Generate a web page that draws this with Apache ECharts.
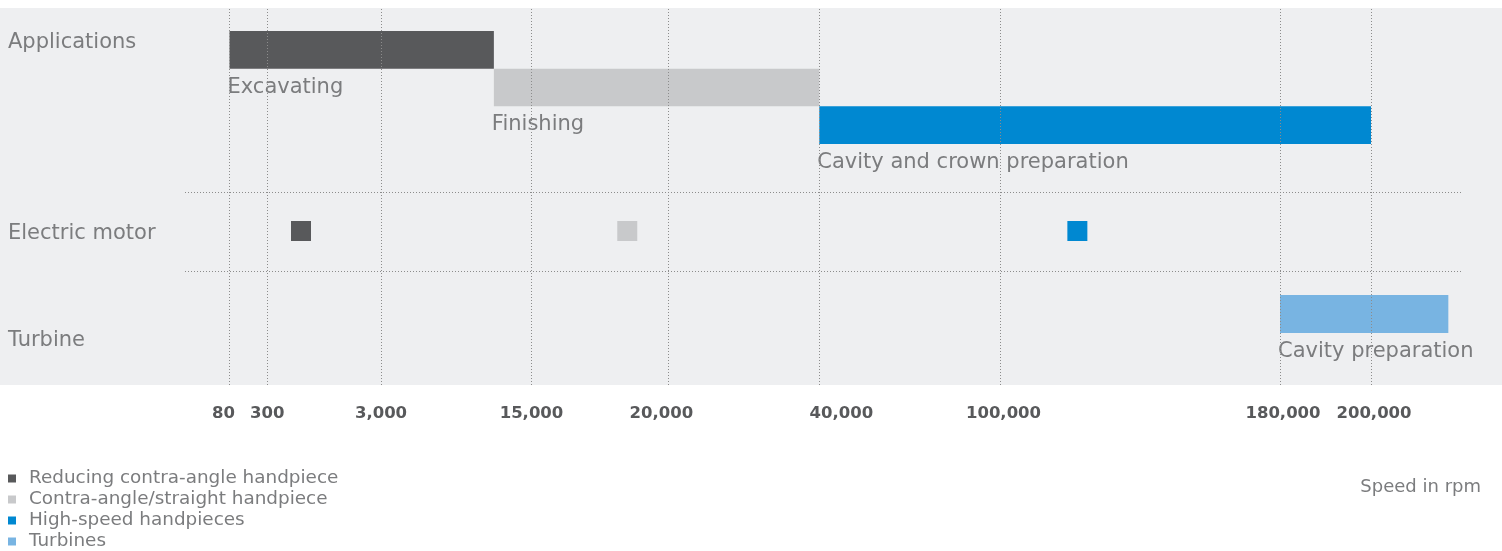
<!DOCTYPE html>
<html><head><meta charset="utf-8">
<script src="https://cdn.jsdelivr.net/npm/echarts@6/dist/echarts.min.js"></script>
<style>html,body{margin:0;padding:0;background:#fff}#c{width:1502px;height:551px}</style>
</head><body><div id="c"></div>
<script>
// ---------- data ----------
const rowLabels = ['Applications', 'Electric motor', 'Turbine'];
const handpieces = ['Reducing contra-angle handpiece', 'Contra-angle/straight handpiece', 'High-speed handpieces', 'Turbines'];
const applications = ['Excavating', 'Finishing', 'Cavity and crown preparation'];
const applicationFrom = [80, 12000, 40000];
const applicationTo = [12000, 40000, 200000];
const motorSpeed = [1100, 18500, 122000];
const turbineApplications = ['Cavity preparation'];
const turbineFrom = [180000];
const turbineTo = [217000];
const tickValues = [80, 300, 3000, 15000, 20000, 40000, 100000, 180000, 200000];
const tickLabels = ['80', '300', '3,000', '15,000', '20,000', '40,000', '100,000', '180,000', '200,000'];
const axisTitle = 'Speed in rpm';

// ---------- layout / style ----------
const FONT = 'DejaVu Sans';
const colors = ['#58595b', '#c8c9cb', '#0088d1', '#78b4e2'];
const textGray = '#7b7c7e';
// piecewise scale: where each tick value sits along the axis (per mille of axis length)
const scaleRange = [152.8, 177.96, 253.66, 353.86, 444.94, 545.47, 666.11, 852.2, 912.78];
const labelShift = [-6, 0, 0, 0, -7, 22, 3, 3, 3];
const rowLabelY = [42.5, 233.5, 340.5];

function toU(v) {
  const d = tickValues, r = scaleRange, n = d.length;
  let i = 0;
  if (v <= d[0]) i = 0;
  else if (v >= d[n - 1]) i = n - 2;
  else { while (!(v >= d[i] && v <= d[i + 1])) i++; }
  return r[i] + (v - d[i]) * (r[i + 1] - r[i]) / (d[i + 1] - d[i]);
}
const tickUnits = tickValues.map(toU);

const rich = {};
labelShift.forEach((s, i) => {
  rich['t' + i] = {
    fontFamily: FONT, fontSize: 16.5, fontWeight: 'bold', color: '#58595b',
    padding: s > 0 ? [0, 0, 0, 2 * s] : [0, -2 * s, 0, 0]
  };
});

function barRenderer(labels) {
  return function (params, api) {
    const s = api.coord([api.value(0), api.value(2)]);
    const e = api.coord([api.value(1), api.value(2)]);
    const h = api.size([0, 1])[1];
    return {
      type: 'group',
      children: [
        { type: 'rect', shape: { x: s[0], y: s[1] - h / 2, width: e[0] - s[0], height: h },
          style: { fill: api.visual('color') } },
        { type: 'text', x: s[0] - 2, y: s[1] + h / 2 + 18.5,
          style: { text: labels[params.dataIndex], fontFamily: FONT, fontSize: 21, fill: textGray,
                   verticalAlign: 'middle', textVerticalAlign: 'middle', align: 'left' } }
      ]
    };
  };
}

const gridBase = { left: 0, right: 0, show: false, outerBoundsMode: 'none', containLabel: false };
const grids = [
  Object.assign({}, gridBase, { top: 8, height: 377, show: true, backgroundColor: '#eeeff1', borderWidth: 0 }),
  Object.assign({}, gridBase, { top: 31, height: 113 }),
  Object.assign({}, gridBase, { top: 221, height: 20 }),
  Object.assign({}, gridBase, { top: 295, height: 38 })
];
const xAxes = grids.map((g, i) => ({
  type: 'value', gridIndex: i, min: 0, max: 1000,
  axisLine: { show: false }, axisTick: { show: false }, splitLine: { show: false },
  axisLabel: i === 0 ? {
    show: true, margin: 20, customValues: tickUnits, rich: rich,
    formatter: function (val) {
      let best = 0;
      tickUnits.forEach((u, k) => { if (Math.abs(u - val) < Math.abs(tickUnits[best] - val)) best = k; });
      return '{t' + best + '|' + tickLabels[best] + '}';
    }
  } : { show: false }
}));
const yAxes = [
  { type: 'value', gridIndex: 0, show: false },
  { type: 'category', gridIndex: 1, data: applications, inverse: true, show: false },
  { type: 'category', gridIndex: 2, data: [rowLabels[1]], show: false },
  { type: 'category', gridIndex: 3, data: turbineApplications, show: false }
];

const series = [];
series.push({
  type: 'line', xAxisIndex: 0, yAxisIndex: 0, data: [], z: 1, silent: true,
  markLine: {
    silent: true, symbol: 'none', label: { show: false },
    lineStyle: { type: [1, 2], color: '#8c8c8c', width: 1 },
    data: tickUnits.map(u => ({ xAxis: u }))
  }
});
applications.forEach((a, i) => {
  series.push({
    type: 'custom', name: handpieces[i], xAxisIndex: 1, yAxisIndex: 1, z: 3,
    itemStyle: { color: colors[i] },
    data: [{ value: [toU(applicationFrom[i]), toU(applicationTo[i]), i] }],
    renderItem: barRenderer([a])
  });
});
motorSpeed.forEach((v, i) => {
  series.push({
    type: 'scatter', name: handpieces[i], xAxisIndex: 2, yAxisIndex: 2, z: 3,
    symbol: 'rect', symbolSize: 20, itemStyle: { color: colors[i], opacity: 1 },
    data: [[toU(v), 0]]
  });
});
series.push({
  type: 'custom', name: handpieces[3], xAxisIndex: 3, yAxisIndex: 3, z: 3,
  itemStyle: { color: colors[3] },
  data: turbineFrom.map((f, i) => ({ value: [toU(f), toU(turbineTo[i]), i] })),
  renderItem: barRenderer(turbineApplications)
});

const graphic = [];
rowLabels.forEach((t, i) => {
  graphic.push({ type: 'text', x: 8, y: rowLabelY[i], silent: true,
    style: { text: t, fontFamily: FONT, fontSize: 21, fill: textGray, verticalAlign: 'middle', textVerticalAlign: 'middle' } });
});
[192.5, 271.5].forEach(y => {
  graphic.push({ type: 'line', silent: true, shape: { x1: 185, y1: y, x2: 1462, y2: y },
    style: { stroke: '#8c8c8c', lineWidth: 1, lineDash: [1, 2] }, z: 2 });
});
graphic.push({ type: 'text', x: 1481, y: 487, silent: true,
  style: { text: axisTitle, fontFamily: FONT, fontSize: 18, fill: textGray, align: 'right', textAlign: 'right',
           verticalAlign: 'middle', textVerticalAlign: 'middle' } });

const chart = echarts.init(document.getElementById('c'), null, { renderer: 'canvas' });
chart.setOption({
  animation: false,
  grid: grids, xAxis: xAxes, yAxis: yAxes, series: series, graphic: graphic,
  legend: {
    data: handpieces.map(n => ({ name: n, icon: 'rect' })),
    orient: 'vertical', left: 8, top: 468, padding: 0, itemGap: 0, height: 90,
    itemWidth: 8, itemHeight: 8, selectedMode: false,
    textStyle: { fontFamily: FONT, fontSize: 18.4, color: textGray, lineHeight: 21, padding: [0, 0, 0, 8] }
  }
});
</script></body></html>
